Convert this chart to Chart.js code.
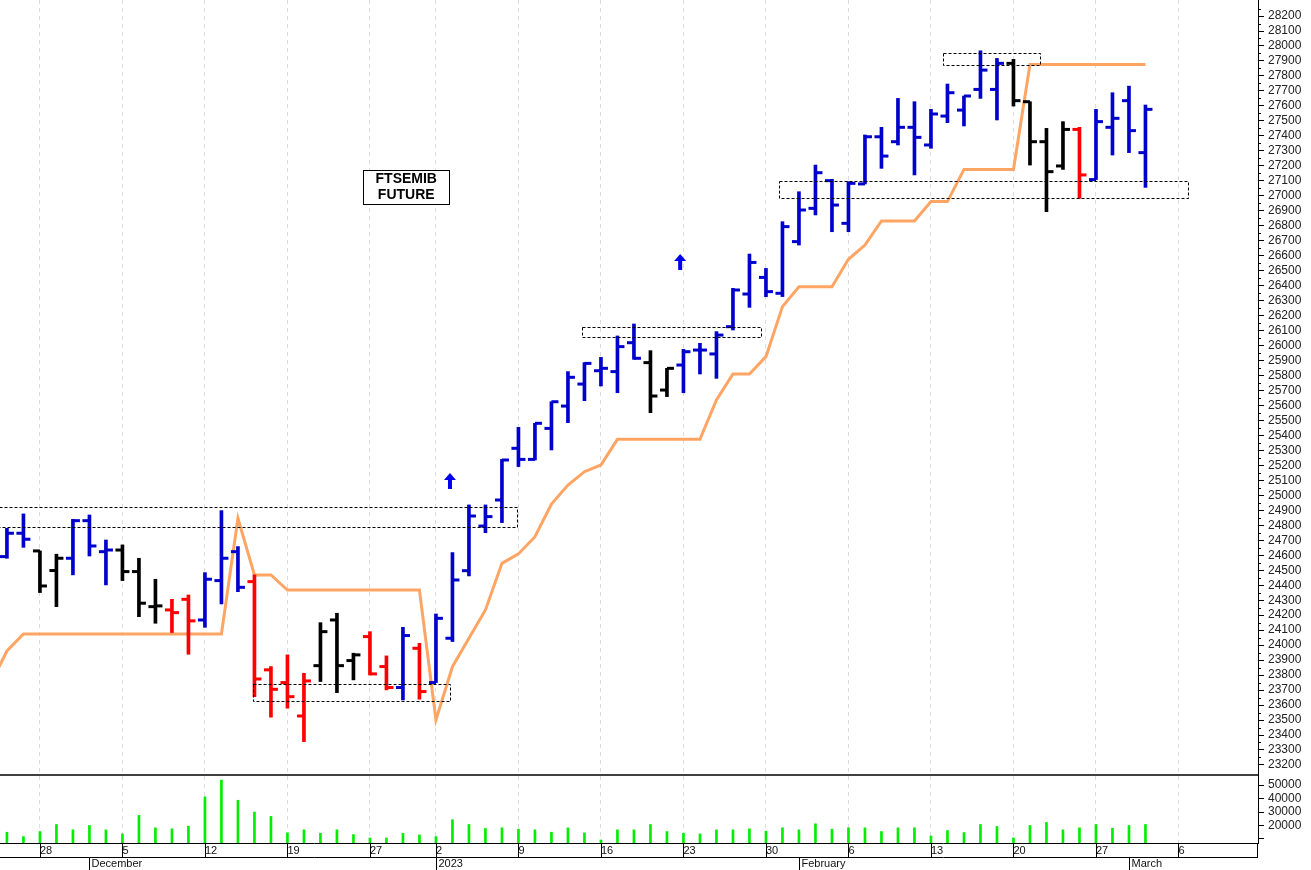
<!DOCTYPE html>
<html><head><meta charset="utf-8">
<script src="https://cdn.jsdelivr.net/npm/chart.js@4.4.1/dist/chart.umd.min.js"></script>
<style>html,body{margin:0;padding:0;background:#fff}#wrap{width:1311px;height:870px}</style>
</head><body><div id="wrap"><canvas id="c" width="1311" height="870"></canvas></div>
<script>
// trading-day index: 0 = Nov 28 2022
const firstIndex = -2;
const opens  = [24591,24747,24629,24498,24580,24831,24624,24635,24491,24257,24235,24306,24168,24431,24624,24424,23835,23750,23527,23863,24168,23897,24057,23857,23717,23979,23750,24046,24497,24795,24969,25314,25240,25447,25596,25743,25832,25826,26019,25886,25703,25870,25970,25944,26126,26344,26455,26349,26694,26916,27101,26816,27079,27394,27361,27457,27339,27532,27572,27710,27710,27884,27628,27361,27199,27443,27108,27457,27635,27288];
const highs  = [24780,24876,24629,24607,24840,24869,24702,24669,24580,24440,24306,24335,24484,24898,24658,24469,23857,23935,23812,24150,24213,23946,24090,23928,24119,24012,24208,24618,24936,24936,25240,25454,25481,25625,25826,25886,25921,26064,26144,25966,25848,25975,26015,26093,26382,26611,26515,26827,27027,27205,27110,27094,27406,27457,27650,27628,27577,27746,27666,27968,27917,27911,27628,27450,27495,27457,27577,27688,27732,27606];
const lows   = [24580,24653,24351,24257,24469,24595,24402,24431,24190,24146,24084,23939,24119,24275,24357,23656,23519,23579,23356,23757,23683,23768,23801,23701,23634,23639,23750,24024,24462,24751,24818,25192,25236,25303,25485,25632,25730,25685,25908,25552,25659,25685,25810,25781,26104,26255,26326,26327,26671,26872,26760,26760,27079,27183,27339,27139,27317,27488,27466,27650,27506,27599,27205,26894,27176,26983,27108,27272,27288,27056];
const closes = [24747,24707,24395,24580,24831,24662,24635,24491,24280,24262,24217,24162,24440,24580,24386,23774,23705,23656,23761,24090,23863,23935,23808,23717,24064,23690,24179,24435,24862,24858,25236,25240,25481,25625,25788,25881,25848,25993,25915,25663,25848,25959,25970,26070,26371,26555,26360,26794,26905,27154,26938,27083,27394,27265,27457,27390,27546,27688,27666,27839,27884,27635,27361,27161,27443,27139,27495,27517,27435,27577];
const barColors = ['b','b','k','k','b','b','b','k','k','k','r','r','b','b','b','r','r','r','r','k','k','k','r','r','b','r','b','b','b','b','b','b','b','b','b','b','b','b','b','k','k','b','b','b','b','b','b','b','b','b','b','b','b','b','b','b','b','b','b','b','b','k','k','k','k','r','b','b','b','b'];
const volumes = [15000,11750,15500,20750,16750,20000,16750,13750,27500,18250,17500,19500,41250,53750,38750,30000,26750,14500,16750,14250,16750,13250,10750,10750,14250,13000,11750,24250,20750,17750,18250,17250,16750,15000,18250,14500,9250,16750,16750,20750,15500,14250,13750,16750,16750,17500,15750,18250,16750,21250,17250,18250,18250,15500,18250,18250,12250,16250,14750,20750,19250,10750,20000,22250,16750,18250,20750,18000,20000,20750];
// orange stop line, from index -3
const stopFirstIndex = -3;
const stopLine = [23740,23961,24075,24075,24075,24075,24075,24075,24075,24075,24075,24075,24075,24075,24075,24847,24469,24469,24368,24368,24368,24368,24368,24368,24368,24368,24368,23501,23856,24046,24235,24546,24609,24724,24942,25069,25158,25203,25374,25374,25374,25374,25374,25374,25637,25810,25810,25926,26260,26393,26393,26393,26576,26671,26832,26832,26832,26961,26961,27176,27176,27176,27176,27877,27877,27877,27877,27877,27877,27877,27877];
// x tick labels at Mondays
const mondayIdx    = [0,5,10,15,20,24,29,34,39,44,49,54,59,64,69];
const mondayLabels = ['28','5','12','19','27','2','9','16','23','30','6','13','20','27','6'];
const monthIdx    = [3,24,46,66];
const monthLabels = ['December','2023','February','March'];
// dashed zones [x1,x2,yTop,yBottom]
const zones = [[-2.5,28.9,24920,24787],[12.9,24.85,23739,23628],[32.85,43.7,26122,26055],[54.75,60.65,27951,27868],[44.8,69.6,27101,26990]];
const arrows = [[24.85,25096],[38.8,26558]];
const titleLines = ['FTSEMIB','FUTURE'];
const titlePos = [22.2,27058];

const colMap = {b:'#0000cc',k:'#000000',r:'#ff0000'};
const ohlcData = highs.map((h,i)=>({x:firstIndex+i,y:[lows[i],h]}));
const volData = volumes.map((v,i)=>({x:firstIndex+i,y:v}));
const stopData = stopLine.map((v,i)=>({x:stopFirstIndex+i,y:v}));

const FONT = 'Liberation Sans';
const extras = {
  id:'extras',
  afterDatasetsDraw(chart){
    const {ctx,scales:{x,y,yv}} = chart;
    ctx.save();
    ctx.lineWidth = 3;
    for(let i=0;i<opens.length;i++){
      const px = x.getPixelForValue(firstIndex+i);
      ctx.strokeStyle = colMap[barColors[i]];
      let py = y.getPixelForValue(opens[i]);
      ctx.beginPath();ctx.moveTo(px-7,py);ctx.lineTo(px,py);ctx.stroke();
      py = y.getPixelForValue(closes[i]);
      ctx.beginPath();ctx.moveTo(px,py);ctx.lineTo(px+7,py);ctx.stroke();
    }
    ctx.lineWidth = 1; ctx.strokeStyle='#000'; ctx.setLineDash([3,2]);
    zones.forEach(z=>{
      const x1=x.getPixelForValue(z[0]),x2=x.getPixelForValue(z[1]);
      const y1=y.getPixelForValue(z[2]),y2=y.getPixelForValue(z[3]);
      ctx.strokeRect(Math.round(x1)+0.5,Math.round(y1)+0.5,Math.round(x2-x1),Math.round(y2-y1));
    });
    ctx.setLineDash([]);
    ctx.fillStyle='#0000ee';
    arrows.forEach(a=>{
      const px=x.getPixelForValue(a[0]),py=y.getPixelForValue(a[1]);
      ctx.beginPath();ctx.moveTo(px,py-8);ctx.lineTo(px+6,py-1);ctx.lineTo(px-6,py-1);ctx.closePath();ctx.fill();
      ctx.fillRect(px-2,py-2,4,10);
    });
    const tx=x.getPixelForValue(titlePos[0]),ty=y.getPixelForValue(titlePos[1]);
    ctx.fillStyle='#fff';ctx.fillRect(tx-43,ty-17,86,34);
    ctx.strokeStyle='#000';ctx.lineWidth=1;ctx.strokeRect(Math.round(tx-43)+0.5,Math.round(ty-17)+0.5,86,34);
    ctx.fillStyle='#000';ctx.font='bold 14px "'+FONT+'"';ctx.textAlign='center';ctx.textBaseline='middle';
    ctx.fillText(titleLines[0],tx,ty-8);ctx.fillText(titleLines[1],tx,ty+8);
    const sepY = yv.top;
    ctx.strokeStyle='#000';ctx.lineWidth=1.5;
    ctx.beginPath();ctx.moveTo(0,sepY);ctx.lineTo(x.right,sepY);ctx.stroke();
    ctx.lineWidth=1;
    ctx.beginPath();ctx.moveTo(0,x.top+0.5);ctx.lineTo(x.right,x.top+0.5);ctx.stroke();
    ctx.beginPath();ctx.moveTo(0,x.top+14.5);ctx.lineTo(x.right,x.top+14.5);ctx.stroke();
    mondayIdx.forEach(m=>{const px=Math.round(x.getPixelForValue(m))+0.5;ctx.beginPath();ctx.moveTo(px,x.top);ctx.lineTo(px,x.top+14);ctx.stroke();});
    const mx=Math.round(x.getPixelForValue(73.8))-0.5;ctx.beginPath();ctx.moveTo(mx,x.top);ctx.lineTo(mx,x.top+14);ctx.stroke();
    ctx.font='11px "'+FONT+'"';ctx.textAlign='left';ctx.textBaseline='middle';ctx.fillStyle='#111';
    monthIdx.forEach((m,i)=>{
      const px=Math.round(x.getPixelForValue(m))+0.5;
      ctx.beginPath();ctx.moveTo(px,x.top+14);ctx.lineTo(px,x.bottom);ctx.stroke();
      ctx.fillText(monthLabels[i],px+2,x.top+21);
    });
    ctx.strokeStyle='#000';
    for(let v=23250;v<=28250;v+=100){const py=Math.round(y.getPixelForValue(v))+0.5;ctx.beginPath();ctx.moveTo(y.left,py);ctx.lineTo(y.left+3,py);ctx.stroke();}
    ctx.restore();
  }
};
const noPad = s=>{s.paddingTop=0;s.paddingBottom=0;s.paddingLeft=0;s.paddingRight=0;};

new Chart(document.getElementById('c'),{
  type:'bar',
  data:{datasets:[
    {type:'line',data:stopData,yAxisID:'y',borderColor:'#ffa564',borderWidth:3,pointRadius:0,tension:0,order:2},
    {type:'bar',data:ohlcData,yAxisID:'y',grouped:false,barThickness:3,backgroundColor:barColors.map(c=>colMap[c]),order:1},
    {type:'bar',data:volData,yAxisID:'yv',grouped:false,barThickness:2,backgroundColor:'#00ee00',order:3}
  ]},
  plugins:[extras],
  options:{
    responsive:false,animation:false,
    layout:{padding:0},
    plugins:{legend:{display:false},tooltip:{enabled:false}},
    scales:{
      x:{type:'linear',min:-2.42,max:73.82,offset:false,
        afterBuildTicks(s){s.ticks=mondayIdx.map(v=>({value:v}));},
        afterFit(s){s.height=27;noPad(s);},
        grid:{color:'#dcdcdc',tickLength:0,drawTicks:false,display:true,lineWidth:1,offset:false},
        border:{display:false,dash:[4,4]},
        ticks:{align:'start',padding:1,font:{family:FONT,size:11},color:'#111',maxRotation:0,autoSkip:false,
          callback(v){const k=mondayIdx.indexOf(v);return k>=0?mondayLabels[k]:'';}}
      },
      y:{position:'right',stack:'p',stackWeight:775,min:23133,max:28307,
        afterBuildTicks(s){const t=[];for(let v=23200;v<=28200;v+=100)t.push({value:v});s.ticks=t;},
        afterFit(s){s.width=53;noPad(s);},
        grid:{drawOnChartArea:false,drawTicks:true,tickLength:6,color:'#000'},
        border:{display:true,color:'#000'},
        ticks:{padding:4,font:{family:FONT,size:12},color:'#222',autoSkip:false,callback:v=>String(v)}
      },
      yv:{position:'right',stack:'p',stackWeight:68,min:7000,max:57500,offset:false,
        afterBuildTicks(s){s.ticks=[10000,20000,30000,40000,50000].map(v=>({value:v}));},
        afterFit(s){s.width=53;noPad(s);},
        grid:{drawOnChartArea:false,drawTicks:true,tickLength:6,color:'#000'},
        border:{display:true,color:'#000'},
        ticks:{padding:4,font:{family:FONT,size:12},color:'#222',autoSkip:false,callback:v=>v===10000?'':String(v)}
      }
    }
  }
});
</script></body></html>
